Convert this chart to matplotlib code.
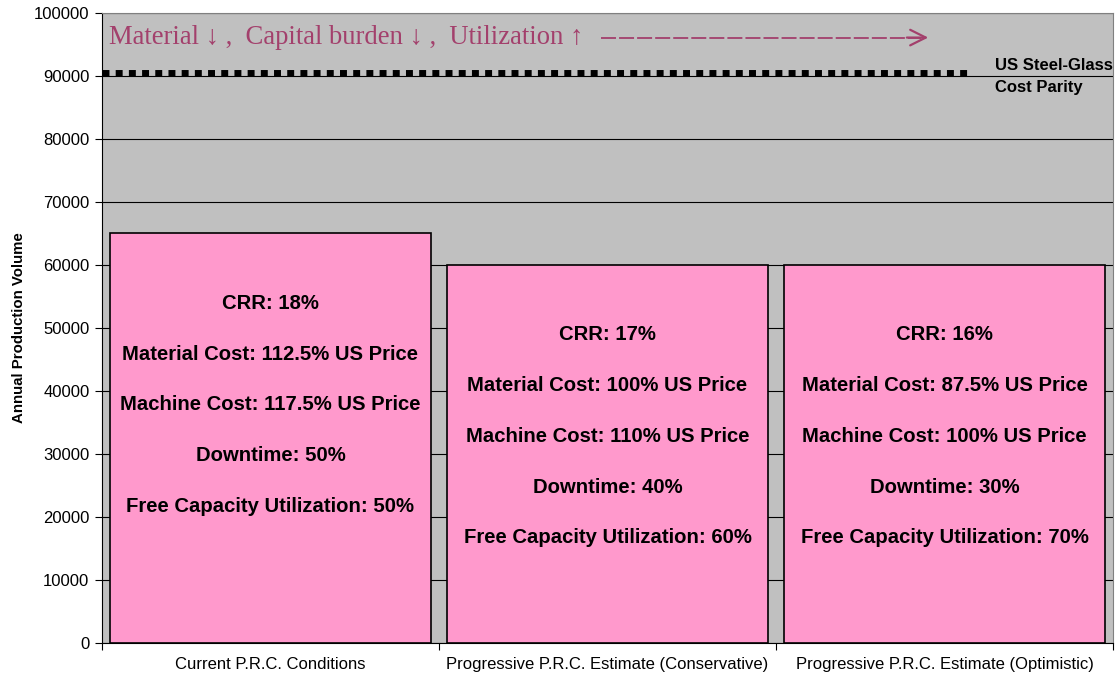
import matplotlib.pyplot as plt
import numpy as np

# dados do gráfico
categories = ['Current P.R.C. Conditions',
              'Progressive P.R.C. Estimate (Conservative)',
              'Progressive P.R.C. Estimate (Optimistic)']
volumes = [65000, 60000, 60000]
parity = 90500
crr = ['18%', '17%', '16%']
material = ['112.5%', '100%', '87.5%']
machine = ['117.5%', '110%', '100%']
downtime = ['50%', '40%', '30%']
utilization = ['50%', '60%', '70%']
yticks = np.arange(0, 100001, 10000)

fig = plt.figure(figsize=(11.17, 6.79), dpi=100)
ax = fig.add_axes([102 / 1117, 36 / 679, 1011 / 1117, 630 / 679])
ax.set_facecolor('#C0C0C0')

x = np.arange(len(categories))
ax.bar(x, volumes, width=0.952, color='#FF99CC', edgecolor='black', linewidth=1.2, zorder=3)

ax.set_xlim(-0.5, len(categories) - 0.5)
ax.set_ylim(0, 100000)
ax.set_yticks(yticks)
ax.set_yticklabels([str(v) for v in yticks], fontsize=12, family='Liberation Sans')
ax.yaxis.grid(True, color='black', linewidth=0.8, zorder=0)
ax.set_axisbelow(True)

# ticks do eixo x nas divisas das categorias
ax.set_xticks(np.arange(-0.5, len(categories), 1.0))
ax.set_xticklabels([])
ax.set_xticks(x, minor=True)
ax.set_xticklabels(categories, minor=True, fontsize=12, family='Liberation Sans')
ax.tick_params(axis='x', which='minor', length=0, pad=10)
ax.tick_params(axis='x', which='major', length=5, direction='out')
ax.tick_params(axis='y', length=5, direction='out', pad=4)

for side in ['top', 'right']:
    ax.spines[side].set_color('#808080')
ax.spines['left'].set_color('black')
ax.spines['bottom'].set_color('black')

ax.set_ylabel('Annual Production Volume', fontsize=10.8, fontweight='bold',
              family='Liberation Sans', labelpad=6)

# linha de paridade
ax.plot([-0.5, 2.07], [parity, parity], color='black', linewidth=5,
        linestyle=(0, (1, 0.9)), dash_capstyle='butt', zorder=4)
ax.text(2.15, parity + 1200, 'US Steel-Glass', fontsize=12, fontweight='bold',
        family='Liberation Sans', va='center', ha='left')
ax.text(2.15, parity - 2400, 'Cost Parity', fontsize=12, fontweight='bold',
        family='Liberation Sans', va='center', ha='left')

# texto dentro das barras
for i in range(len(categories)):
    lines = ['CRR: ' + crr[i],
             'Material Cost: ' + material[i] + ' US Price',
             'Machine Cost: ' + machine[i] + ' US Price',
             'Downtime: ' + downtime[i],
             'Free Capacity Utilization: ' + utilization[i]]
    top = volumes[i] - 11100
    for j, s in enumerate(lines):
        ax.text(x[i], top - j * 8050, s, ha='center', va='center', fontsize=14.6,
                fontweight='bold', family='Liberation Sans', zorder=5)

ax.text(-0.48, 96100, 'Material ↓ ,  Capital burden ↓ ,  Utilization ↑  ',
        fontsize=19.2, color='#A3406C', family='Liberation Serif', va='center', ha='left')
ax.plot([0.98, 1.93], [96100, 96100], color='#A3406C', linewidth=1.3,
        linestyle=(0, (8.3, 1.7)))
ax.annotate('', xy=(1.96, 96100), xytext=(1.88, 96100),
            arrowprops=dict(arrowstyle='->', color='#A3406C', lw=1.6, mutation_scale=28))

fig.savefig('out.png', dpi=100)
